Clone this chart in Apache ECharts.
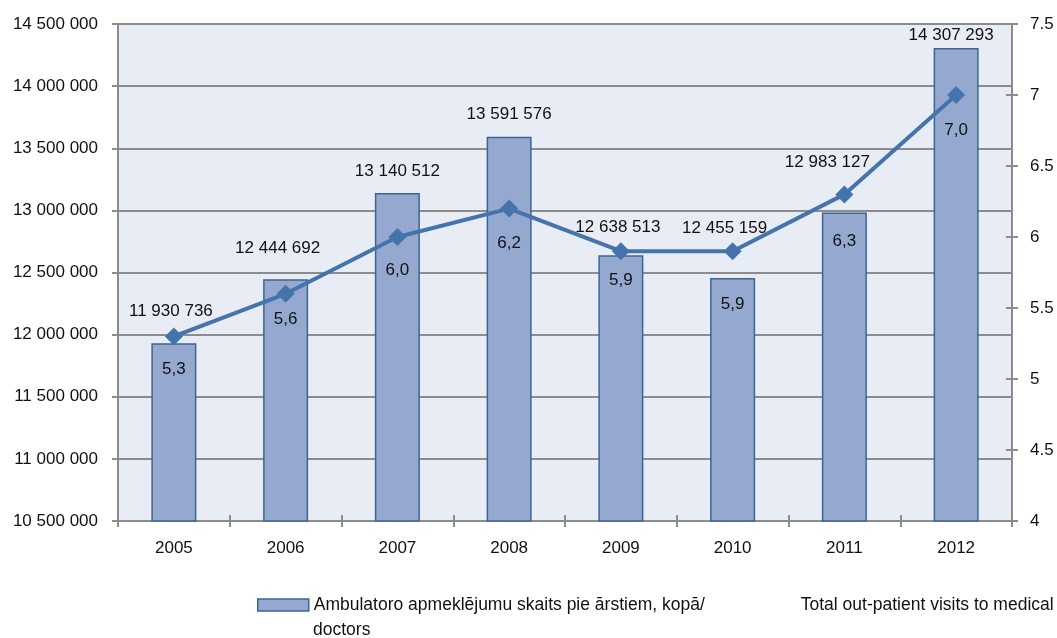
<!DOCTYPE html>
<html>
<head>
<meta charset="utf-8">
<script src="https://cdn.jsdelivr.net/npm/echarts@6/dist/echarts.min.js"></script>
<style>html,body{margin:0;padding:0;background:#fff}#c{width:1057px;height:638px}</style>
</head>
<body>
<div id="c"></div>
<script>
var years = ['2005','2006','2007','2008','2009','2010','2011','2012'];
var visits = [11930736, 12444692, 13140512, 13591576, 12638513, 12455159, 12983127, 14307293];
var perCapita = [5.3, 5.6, 6.0, 6.2, 5.9, 5.9, 6.3, 7.0];
var leftTicks = {min: 10500000, max: 14500000, interval: 500000};
var rightTicks = {min: 4, max: 7.5, interval: 0.5};
var legendLine1 = 'Ambulatoro apmeklējumu skaits pie ārstiem, kopā/';
var legendLine1b = 'Total out-patient visits to medical';
var legendLine2 = 'doctors';
// label placement (style only)
var barLabelDist = [23, 23, 13, 14, 19, 41, 42, 4];
var barLabelDx = [-3, -8, 0, 0, -3, -8, -17, -5];
var lineLabelDist = [15, 8, 16, 17, 12, 36, 29, 18];

function fmtSpace(v){ return String(v).replace(/\B(?=(\d{3})+(?!\d))/g, ' '); }
var FONT = 'Liberation Sans, Arial, sans-serif';
var FS = 17;
var LFS = 17.5;
var TXT = '#111';
var chart = echarts.init(document.getElementById('c'), null, {renderer:'canvas'});
var gridColor = '#8c8c8c';
var tickInside = {show: true, inside: true, length: 6, lineStyle: {color: gridColor, width: 2}};
var tickOutside = {show: true, inside: false, length: 6, lineStyle: {color: gridColor, width: 2}};
chart.setOption({
  animation: false,
  textStyle: {fontFamily: FONT},
  grid: {left: 118, right: 45, top: 24, bottom: 117, show: true, backgroundColor: '#E8ECF4', borderWidth: 0},
  legend: {
    left: 257, top: 596, padding: 0, itemWidth: 51, itemHeight: 12, itemGap: 10,
    data: [{name: 'bar', icon: 'rect'}],
    itemStyle: {color: '#95A9D0', borderColor: '#3E6494', borderWidth: 1.5},
    formatter: function(){ return '{a|' + legendLine1 + '}{b|' + legendLine1b + '}'; },
    textStyle: {
      fontSize: LFS, color: TXT, fontFamily: FONT, padding: [0,0,0,0],
      rich: {
        a: {fontSize: LFS, color: TXT, fontFamily: FONT, width: 487},
        b: {fontSize: LFS, color: TXT, fontFamily: FONT}
      }
    }
  },
  graphic: [{
    type: 'text', left: 313, top: 621,
    style: {text: legendLine2, font: LFS + 'px ' + FONT, fill: TXT}
  }],
  xAxis: [{
    type: 'category', data: years, boundaryGap: true,
    axisLine: {lineStyle: {color: gridColor, width: 2}},
    axisTick: tickOutside,
    axisLabel: {fontSize: FS, color: TXT, margin: 19, fontFamily: FONT}
  },{
    type: 'category', data: years, boundaryGap: true, position: 'bottom',
    axisLine: {show: false}, axisTick: tickInside, axisLabel: {show: false}
  }],
  yAxis: [{
    type: 'value', min: leftTicks.min, max: leftTicks.max, interval: leftTicks.interval,
    axisLine: {show: true, lineStyle: {color: gridColor, width: 2}},
    axisTick: tickOutside,
    splitLine: {show: true, lineStyle: {color: gridColor, width: 2}},
    axisLabel: {fontSize: FS, color: TXT, margin: 20, fontFamily: FONT, formatter: fmtSpace}
  },{
    type: 'value', min: rightTicks.min, max: rightTicks.max, interval: rightTicks.interval, position: 'right',
    axisLine: {show: true, lineStyle: {color: gridColor, width: 2}},
    axisTick: tickOutside,
    splitLine: {show: false},
    axisLabel: {fontSize: FS, color: TXT, margin: 18, fontFamily: FONT}
  },{
    type: 'value', min: leftTicks.min, max: leftTicks.max, interval: leftTicks.interval, position: 'left',
    axisLine: {show: false}, axisTick: tickInside, splitLine: {show: false}, axisLabel: {show: false}
  },{
    type: 'value', min: rightTicks.min, max: rightTicks.max, interval: rightTicks.interval, position: 'right',
    axisLine: {show: false}, axisTick: tickInside, splitLine: {show: false}, axisLabel: {show: false}
  }],
  series: [{
    name: 'bar', type: 'bar', yAxisIndex: 0, barWidth: 45,
    itemStyle: {color: '#95A9D0', borderColor: '#3E6494', borderWidth: 1.5},
    data: visits.map(function(v, i){ return {value: v, label: {distance: barLabelDist[i], offset: [barLabelDx[i], 0]}}; }),
    label: {show: true, position: 'top', fontSize: FS, color: TXT, fontFamily: FONT,
      formatter: function(p){ return fmtSpace(p.value); }},
    z: 2
  },{
    name: 'line', type: 'line', yAxisIndex: 1,
    symbol: 'diamond', symbolSize: 18,
    lineStyle: {color: '#4574AC', width: 4},
    itemStyle: {color: '#4574AC'},
    data: perCapita.map(function(v, i){ return {value: v, label: {distance: lineLabelDist[i]}}; }),
    label: {show: true, position: 'bottom', fontSize: FS, color: TXT, fontFamily: FONT,
      formatter: function(p){ return p.value.toFixed(1).replace('.', ','); }},
    z: 3
  }]
});
</script>
</body>
</html>
